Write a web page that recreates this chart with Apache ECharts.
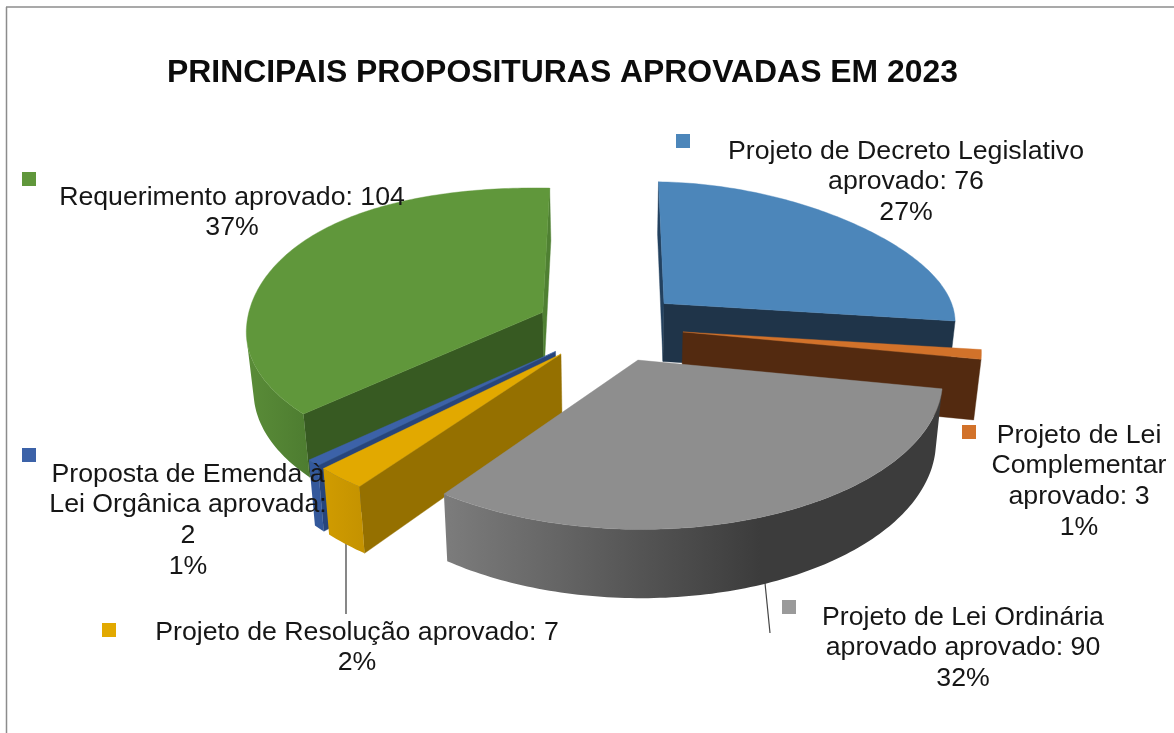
<!DOCTYPE html>
<html><head><meta charset="utf-8">
<style>html,body{margin:0;padding:0;background:#fff}#c{width:1174px;height:733px}</style>
<script src="https://cdn.jsdelivr.net/npm/echarts@6/dist/echarts.min.js"></script>
</head><body><div id="c"></div>
<script>
// ---- data ----
const titleText = 'PRINCIPAIS PROPOSITURAS APROVADAS EM 2023';
const categories = [
  'Projeto de Decreto Legislativo\naprovado',
  'Projeto de Lei\nComplementar\naprovado',
  'Projeto de Lei Ordinária\naprovado aprovado',
  'Projeto de Resolução aprovado',
  'Proposta de Emenda à\nLei Orgânica aprovada',
  'Requerimento aprovado'
];
const values = [76, 3, 90, 7, 2, 104];

// ---- styles per slice (same order as the data) ----
const topColors   = ['#4c86ba', '#d2722a', '#8e8e8e', '#e2a900', '#3c62a8', '#60973b'];
const startFaces  = ['#23415f', '#532a10', '#444444', '#957000', '#27457c', '#375a22'];
const endFaces    = ['#1f3449', '#532a10', '#444444', '#957000', '#27457c', '#4f8032'];
const wallColors  = [['#1f3449', '#1f3449'], ['#b9621f', '#b9621f'], ['#7c7c7c', '#3c3c3c'],
                     ['#cf9b00', '#c49200'], ['#33589b', '#33589b'], ['#5a8c38', '#4d7c30']];
const wallGradX   = [[650, 960], [680, 990], [445, 760], [327, 365], [310, 330], [247, 310]];
const drawRank    = [2, 3, 6, 5, 4, 1];
const labelCenters = [[906, 136], [1079, 420], [963, 602], [357, 617], [188, 459], [232, 182]];
const labelSeps    = [' ', ' ', ' ', ' ', '\n', ' '];
const keySquares   = [[676, 134], [962, 425], [782, 600], [102, 623], [22, 448], [22, 172]];
const keyColors    = ['#4c86ba', '#d2722a', '#9a9a9a', '#e2a900', '#3c62a8', '#60973b'];

// ---- 3D projection of the exploded pie ----
const VIEW = { x0: 610, y0: 326.4, rx: 294, ry: 141.2, persp: 0.1158, depth: 59, taper: 0.02, explode: 0.25, leftStretch: 1.01, skew: 11 };
const FONT = '"Liberation Sans", Arial, sans-serif';
const total = values.reduce((a, b) => a + b, 0);

function project(X, Y, Z) {
  const d = 1 - VIEW.persp * Y;
  const xs = X < 0 ? X * VIEW.leftStretch : X;
  const ys = VIEW.ry * Y - (Y < 0 ? VIEW.skew * X * Math.abs(X) * Y : 0);
  return [VIEW.x0 + VIEW.rx * xs / d * (1 - VIEW.taper * Z), VIEW.y0 + (ys + VIEW.depth * Z) / d];
}
function area(p) {
  let s = 0;
  for (let i = 0; i < p.length; i++) { const q = p[(i + 1) % p.length]; s += p[i][0] * q[1] - q[0] * p[i][1]; }
  return s;
}
function sliceAngles(i) {
  let before = 0;
  for (let k = 0; k < i; k++) before += values[k];
  return [before / total * 2 * Math.PI, (before + values[i]) / total * 2 * Math.PI];
}

function renderSlice(params, api) {
  const i = params.dataIndex;
  const [a0, a1] = sliceAngles(i);
  const mid = (a0 + a1) / 2;
  const cx = VIEW.explode * Math.sin(mid), cy = -VIEW.explode * Math.cos(mid);
  const rim = (a, z) => project(cx + Math.sin(a), cy - Math.cos(a), z);
  const n = Math.max(4, Math.ceil((a1 - a0) / (Math.PI / 180)));
  const angles = [];
  for (let k = 0; k <= n; k++) angles.push(a0 + (a1 - a0) * k / n);
  const z2 = drawRank[i] * 10;
  const children = [];
  const poly = (pts, fill, z) => children.push({
    type: 'polygon', z2: z2 + z, shape: { points: pts },
    style: { fill: fill, stroke: typeof fill === 'string' ? fill : null, lineWidth: 0.4 }
  });
  const apexT = project(cx, cy, 0), apexB = project(cx, cy, 1);
  // cut faces
  const startFace = [apexT, rim(a0, 0), rim(a0, 1), apexB];
  const endFace = [rim(a1, 0), apexT, apexB, rim(a1, 1)];
  if (area(startFace) < 0) poly(startFace, startFaces[i], 0);
  if (area(endFace) < 0) poly(endFace, endFaces[i], 0);
  // outer wall: only the segments that face the viewer
  const upper = [], lower = [];
  for (let k = 0; k < n; k++) {
    const q = [rim(angles[k], 0), rim(angles[k + 1], 0), rim(angles[k + 1], 1), rim(angles[k], 1)];
    if (area(q) < 0) {
      if (!upper.length) { upper.push(q[0]); lower.push(q[3]); }
      upper.push(q[1]); lower.push(q[2]);
    }
  }
  if (upper.length) {
    const gx = wallGradX[i], wc = wallColors[i];
    const grad = new echarts.graphic.LinearGradient(gx[0], 0, gx[1], 0,
      [{ offset: 0, color: wc[0] }, { offset: 1, color: wc[1] }], true);
    poly(upper.concat(lower.reverse()), grad, 1);
  }
  // top face
  poly([apexT].concat(angles.map(a => rim(a, 0))), topColors[i], 2);
  return { type: 'group', children: children };
}

function renderLabel(params, api) {
  const i = params.dataIndex;
  const pct = Math.round(values[i] / total * 100);
  const text = categories[i] + ':' + labelSeps[i] + api.value(0) + '\n' + pct + '%';
  return {
    type: 'group',
    children: [
      { type: 'rect', z2: 200, shape: { x: keySquares[i][0], y: keySquares[i][1], width: 14, height: 14 }, style: { fill: keyColors[i] } },
      { type: 'text', z2: 201, x: labelCenters[i][0], y: labelCenters[i][1],
        style: { text: text, fill: '#161616', fontFamily: FONT, fontSize: 26.7, lineHeight: 30.7, align: 'center', verticalAlign: 'top' } }
    ]
  };
}

const chart = echarts.init(document.getElementById('c'), null, { renderer: 'canvas' });
chart.setOption({
  animation: false,
  backgroundColor: '#ffffff',
  title: { text: titleText, left: 162, top: 52, textStyle: { fontFamily: FONT, fontSize: 31.9, fontWeight: 'bold', color: '#0c0c0c' } },
  graphic: [
    { type: 'line', shape: { x1: 6.5, y1: 7, x2: 6.5, y2: 733 }, style: { stroke: '#8c8c8c', lineWidth: 1.5 } },
    { type: 'line', shape: { x1: 6, y1: 7, x2: 1174, y2: 7 }, style: { stroke: '#8c8c8c', lineWidth: 1.5 } },
    { type: 'line', shape: { x1: 346, y1: 542, x2: 346, y2: 614 }, style: { stroke: '#6a6a6a', lineWidth: 1.6 } },
    { type: 'line', shape: { x1: 765, y1: 583, x2: 770, y2: 633 }, style: { stroke: '#444444', lineWidth: 1.2 } }
  ],
  series: [
    { type: 'custom', coordinateSystem: 'none', renderItem: renderSlice, data: values, silent: true, clip: false, z: 2 },
    { type: 'custom', coordinateSystem: 'none', renderItem: renderLabel, data: values, silent: true, clip: false, z: 3 }
  ]
});
</script></body></html>
